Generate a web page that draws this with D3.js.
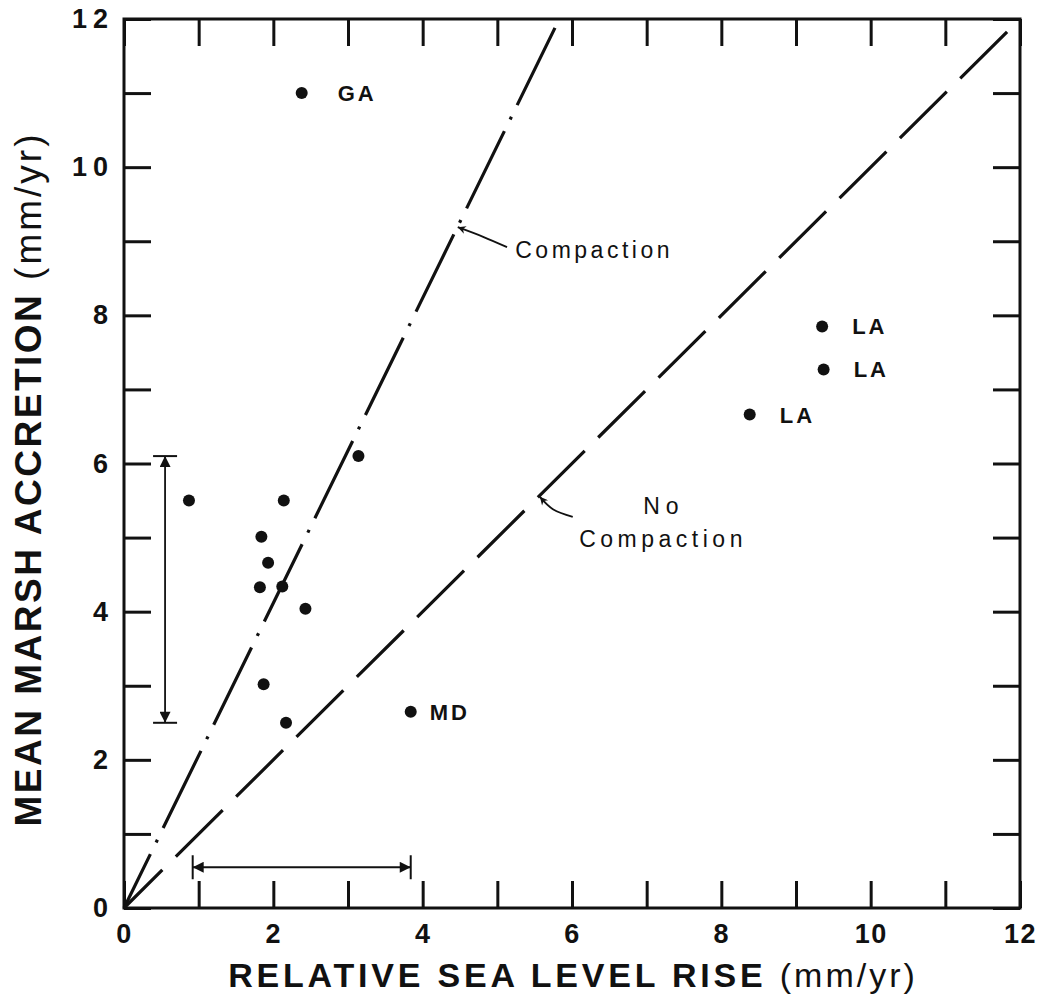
<!DOCTYPE html>
<html>
<head>
<meta charset="utf-8">
<script src="https://cdn.jsdelivr.net/npm/d3@7"></script>
<style>
  html, body { margin: 0; padding: 0; background: #fff; }
  svg { display: block; }
</style>
</head>
<body>
<svg id="chart" width="1043" height="998"></svg>
<script>
// ---- data ----
const xTicks = [0,1,2,3,4,5,6,7,8,9,10,11,12];
const yTicks = [0,1,2,3,4,5,6,7,8,9,10,11,12];
const siteX = [2.38, 0.87, 2.14, 3.14, 1.84, 1.93, 1.82, 2.12, 2.43, 1.87, 2.17, 3.84, 9.35, 9.37, 8.38];
const siteY = [11.0, 5.5, 5.5, 6.1, 5.01, 4.66, 4.33, 4.34, 4.04, 3.02, 2.5, 2.65, 7.85, 7.27, 6.66];
const siteLabel = ["GA", "", "", "", "", "", "", "", "", "", "", "MD", "LA", "LA", "LA"];
const compactionLine = [[0, 0], [5.83, 12]];
const noCompactionLine = [[0, 0], [12, 12]];
const rangeAccretion = [2.5, 6.1];   // vertical range bar (y values)
const rangeSeaLevel = [0.92, 3.84];  // horizontal range bar (x values)
const xTitle = "RELATIVE SEA LEVEL RISE";
const yTitle = "MEAN MARSH ACCRETION";
const unitText = "(mm/yr)";

// ---- layout ----
const L = 124, R = 1020, T = 19, B = 908;
const svg = d3.select("#chart");
const x = d3.scaleLinear().domain([0, 12]).range([L, R]);
const y = d3.scaleLinear().domain([0, 12]).range([B, T]);
const font = "'Liberation Sans', Arial, Helvetica, sans-serif";

svg.append("rect").attr("width", 1043).attr("height", 998).attr("fill", "#fff");

// defs: arrowheads
const defs = svg.append("defs");
defs.append("marker").attr("id", "tri").attr("viewBox", "0 0 10 10")
  .attr("refX", 10).attr("refY", 5).attr("markerWidth", 24).attr("markerHeight", 11)
  .attr("markerUnits", "userSpaceOnUse").attr("orient", "auto")
  .append("path").attr("d", "M0,0 L10,5 L0,10 Z").attr("fill", "#111");
defs.append("marker").attr("id", "small").attr("viewBox", "0 0 10 10")
  .attr("refX", 10).attr("refY", 5).attr("markerWidth", 13).attr("markerHeight", 8)
  .attr("markerUnits", "userSpaceOnUse").attr("orient", "auto")
  .append("path").attr("d", "M0,0 L10,5 L0,10 L3,5 Z").attr("fill", "#111");

// ---- axes ----
const tickLen = 27;
function styleAxis(ls) {
  return g => {
    g.selectAll(".domain").remove();
    g.selectAll(".tick line").attr("stroke", "#111").attr("stroke-width", 3);
    g.selectAll(".tick text").attr("fill", "#111")
      .attr("font-family", font).attr("font-size", 27).attr("font-weight", "bold")
      .attr("letter-spacing", ls);
  };
}
svg.append("g").attr("transform", `translate(0,${B})`)
  .call(d3.axisBottom(x).tickValues(xTicks).tickSize(-tickLen).tickSizeOuter(0).tickPadding(16)
    .tickFormat(d => d % 2 === 0 ? d : ""))
  .call(styleAxis(1.5));
svg.append("g").attr("transform", `translate(0,${T})`)
  .call(d3.axisTop(x).tickValues(xTicks).tickSize(-tickLen).tickSizeOuter(0).tickFormat(""))
  .call(styleAxis(0));
svg.append("g").attr("transform", `translate(${L},0)`)
  .call(d3.axisLeft(y).tickValues(yTicks).tickSize(-tickLen).tickSizeOuter(0).tickPadding(10)
    .tickFormat(d => d % 2 === 0 ? d : ""))
  .call(styleAxis(6));
svg.append("g").attr("transform", `translate(${R},0)`)
  .call(d3.axisRight(y).tickValues(yTicks).tickSize(-tickLen).tickSizeOuter(0).tickFormat(""))
  .call(styleAxis(0));

// frame
svg.append("rect").attr("x", L).attr("y", T).attr("width", R - L).attr("height", B - T)
  .attr("fill", "none").attr("stroke", "#111").attr("stroke-width", 3);

// ---- reference lines ----
const line = d3.line().x(d => x(d[0])).y(d => y(d[1]));
svg.append("path").datum(compactionLine).attr("d", line)
  .attr("fill", "none").attr("stroke", "#111").attr("stroke-width", 3.2)
  .attr("stroke-dasharray", "86 13 3 13").attr("stroke-dashoffset", 26);
svg.append("path").datum(noCompactionLine).attr("d", line)
  .attr("fill", "none").attr("stroke", "#111").attr("stroke-width", 3.2)
  .attr("stroke-dasharray", "66 19").attr("stroke-dashoffset", 12);

// ---- range bars ----
const capHalf = 12;
const vx = x(0.55);
svg.append("line").attr("x1", vx).attr("x2", vx).attr("y1", y(rangeAccretion[0])).attr("y2", y(rangeAccretion[1]))
  .attr("stroke", "#111").attr("stroke-width", 1.8);
svg.append("line").attr("x1", vx).attr("x2", vx).attr("y1", y(d3.mean(rangeAccretion))).attr("y2", y(rangeAccretion[1]))
  .attr("stroke", "none").attr("marker-end", "url(#tri)");
svg.append("line").attr("x1", vx).attr("x2", vx).attr("y1", y(d3.mean(rangeAccretion))).attr("y2", y(rangeAccretion[0]))
  .attr("stroke", "none").attr("marker-end", "url(#tri)");
rangeAccretion.forEach(v => {
  svg.append("line").attr("x1", vx - capHalf).attr("x2", vx + capHalf).attr("y1", y(v)).attr("y2", y(v))
    .attr("stroke", "#111").attr("stroke-width", 2);
});
const hy = y(0.55);
svg.append("line").attr("x1", x(rangeSeaLevel[0])).attr("x2", x(rangeSeaLevel[1])).attr("y1", hy).attr("y2", hy)
  .attr("stroke", "#111").attr("stroke-width", 1.8);
svg.append("line").attr("x1", x(d3.mean(rangeSeaLevel))).attr("x2", x(rangeSeaLevel[0])).attr("y1", hy).attr("y2", hy)
  .attr("stroke", "none").attr("marker-end", "url(#tri)");
svg.append("line").attr("x1", x(d3.mean(rangeSeaLevel))).attr("x2", x(rangeSeaLevel[1])).attr("y1", hy).attr("y2", hy)
  .attr("stroke", "none").attr("marker-end", "url(#tri)");
rangeSeaLevel.forEach(v => {
  svg.append("line").attr("x1", x(v)).attr("x2", x(v)).attr("y1", hy - capHalf).attr("y2", hy + capHalf)
    .attr("stroke", "#111").attr("stroke-width", 2);
});

// ---- points ----
const pts = siteX.map((v, i) => ({ x: v, y: siteY[i], label: siteLabel[i] }));
svg.append("g").selectAll("circle").data(pts).join("circle")
  .attr("cx", d => x(d.x)).attr("cy", d => y(d.y)).attr("r", 6).attr("fill", "#111");
const labelDx = { GA: 36, MD: 19, LA: 30 };
svg.append("g").selectAll("text").data(pts.filter(d => d.label)).join("text")
  .attr("x", d => x(d.x) + labelDx[d.label]).attr("y", d => y(d.y)).attr("dy", "0.36em")
  .attr("font-family", font).attr("font-size", 22).attr("font-weight", "bold")
  .attr("letter-spacing", 3).attr("fill", "#111").text(d => d.label);

// ---- annotations ----
const annFont = 23;
const curve = d3.line().curve(d3.curveNatural).x(d => x(d[0])).y(d => y(d[1]));
svg.append("path").datum([[5.13, 8.92], [4.81, 9.06], [4.47, 9.19]]).attr("d", curve)
  .attr("fill", "none").attr("stroke", "#111").attr("stroke-width", 1.8).attr("marker-end", "url(#small)");
svg.append("text").attr("x", x(5.24)).attr("y", y(8.88)).attr("dy", "0.36em")
  .attr("font-family", font).attr("font-size", annFont).attr("letter-spacing", 3.5).attr("fill", "#111")
  .text("Compaction");

svg.append("path").datum([[6.01, 5.28], [5.75, 5.38], [5.57, 5.55]]).attr("d", curve)
  .attr("fill", "none").attr("stroke", "#111").attr("stroke-width", 1.8).attr("marker-end", "url(#small)");
svg.append("text").attr("x", x(7.23)).attr("y", y(5.43)).attr("dy", "0.36em").attr("text-anchor", "middle")
  .attr("font-family", font).attr("font-size", annFont).attr("letter-spacing", 6).attr("fill", "#111")
  .text("No");
svg.append("text").attr("x", x(7.22)).attr("y", y(4.98)).attr("dy", "0.36em").attr("text-anchor", "middle")
  .attr("font-family", font).attr("font-size", annFont).attr("letter-spacing", 4.5).attr("fill", "#111")
  .text("Compaction");

// ---- axis titles ----
const xt = svg.append("text").attr("x", 573).attr("y", 975).attr("dy", "0.36em").attr("text-anchor", "middle")
  .attr("font-family", font).attr("font-size", 34).attr("fill", "#111");
xt.append("tspan").attr("font-weight", "bold").attr("letter-spacing", 3.8).text(xTitle + " ");
xt.append("tspan").attr("letter-spacing", 3).text(unitText);

const yt = svg.append("text").attr("transform", `translate(28,479) rotate(-90)`).attr("dy", "0.36em")
  .attr("text-anchor", "middle")
  .attr("font-family", font).attr("font-size", 37).attr("fill", "#111");
yt.append("tspan").attr("font-weight", "bold").attr("letter-spacing", 2.5).text(yTitle + " ");
yt.append("tspan").attr("letter-spacing", 3).text(unitText);
</script>
</body>
</html>
